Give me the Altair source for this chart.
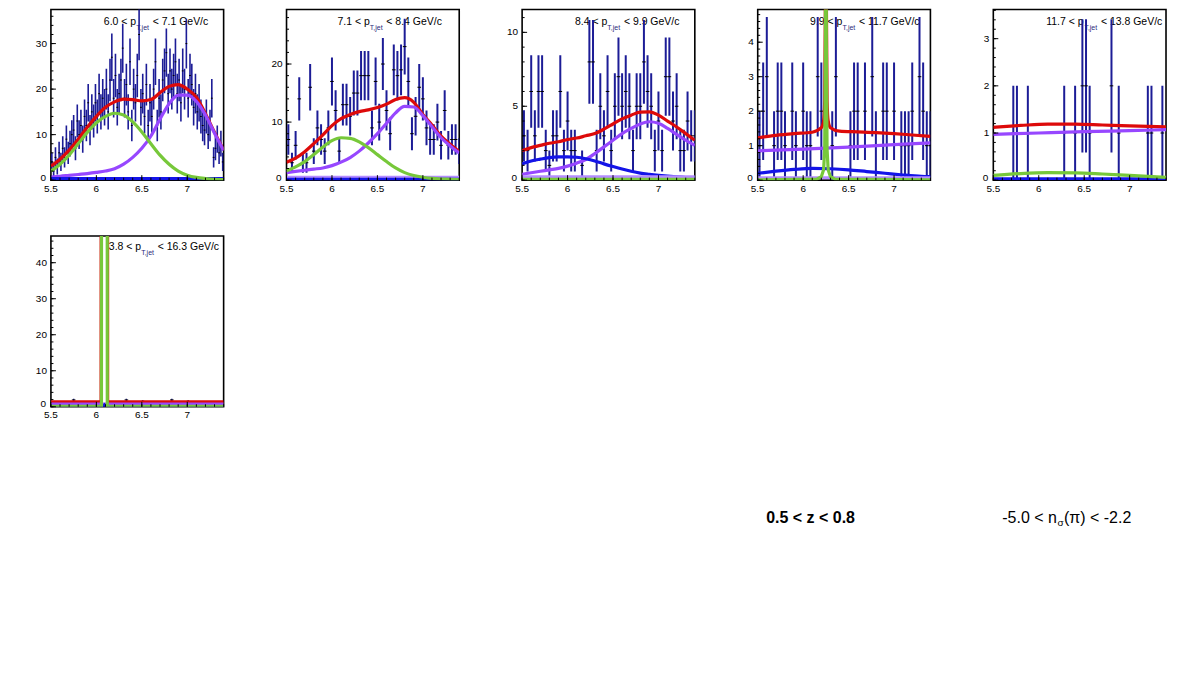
import altair as alt
import numpy as np
import pandas as pd

FONT = "Liberation Sans"
W, H = 173, 171
X_DOMAIN = [5.5, 7.4]
NAVY, RED, PURPLE, GREEN, BLUE, LAV = "#1c1c96", "#dd0a0a", "#9747ff", "#77c83a", "#1414e8", "#b48cff"

# ---------------- panel titles / axes ----------------
pt_low = ["6.0", "7.1", "8.4", "9.9", "11.7", "3.8"]
pt_high = ["7.1", "8.4", "9.9", "11.7", "13.8", "16.3"]
y_max = [37.5, 29.4, 11.55, 4.95, 3.62, 47.4]
y_major = [[0, 10, 20, 30], [0, 10, 20], [0, 5, 10], [0, 1, 2, 3, 4], [0, 1, 2, 3], [0, 10, 20, 30, 40]]
y_minor_step = [2, 2, 1, 0.2, 0.2, 2]
x_major = [5.5, 6.0, 6.5, 7.0]
x_major_labels = ["5.5", "6", "6.5", "7"]
x_minor_step = 0.1

# ---------------- histogram data ----------------
p1_counts = [4, 2, 5, 3, 6, 4, 7, 5, 9, 6, 8, 10, 11, 7, 13, 10, 12, 9, 14, 12,
             17, 11, 15, 13, 17, 14, 19, 15, 18, 16, 20, 15, 22, 27, 18, 23, 16, 19, 22, 29,
             18, 21, 15, 26, 12, 20, 17, 23, 32, 16, 19, 14, 21, 12, 17, 14, 20, 26, 12, 18,
             15, 22, 24, 28, 19, 24, 20, 23, 26, 19, 22, 17, 24, 20, 30, 18, 23, 21, 16, 19,
             15, 17, 14, 12, 11, 14, 10, 12, 18, 5, 7, 9, 6, 8, 4]
p2_counts = [7, 3, 6, 14, 3, 3, 16, 5, 9, 7, 5, 9, 17, 12, 5, 13, 13, 11, 15, 15,
             18, 18, 18, 9, 17, 10, 20, 12, 8, 19, 18, 19, 23, 17, 8, 11, 16, 14, 9, 7,
             7, 10, 6, 12, 6, 7, 7, 5]
p3_counts = [3, 2, 6, 3, 6, 6, 2, 1, 3, 3, 6, 2, 4, 2, 2, 0, 1, 0, 8, 8,
             2, 5, 3, 6, 2, 5, 7, 5, 6, 5, 2, 5, 5, 8, 6, 5, 2, 4, 2, 7,
             7, 4, 5, 2, 2, 4, 3, 3]
p4_counts = [1, 2, 3, 0, 1, 2, 2, 1, 0, 2, 1, 0, 2, 1, 1, 0, 3, 2, 0, 0,
             1, 3, 0, 0, 0, 1, 2, 2, 0, 2, 0, 3, 1, 0, 2, 2, 0, 2, 0, 1,
             1, 1, 2, 0, 3, 2, 1, 1]
p5_counts = [0, 0, 0, 0, 0, 1, 1, 0, 0, 1, 0, 0, 0, 0, 0, 0, 0, 0, 0, 1,
             0, 0, 1, 0, 2, 2, 1, 0, 0, 0, 0, 0, 2, 0, 1, 0, 0, 0, 0, 0,
             0, 0, 1, 1, 0, 0, 1, 0]
p6_x = [5.75, 6.33, 6.51, 6.83, 7.01]
p6_vals = [1.9, 1.9, 1.5, 1.9, 1.5]
p6_errs = [0.35, 0.35, 0.35, 0.35, 0.35]

# ---------------- fitted curves ----------------
grid_x = [5.5, 5.6, 5.7, 5.8, 5.9, 6.0, 6.1, 6.2, 6.3, 6.4, 6.5, 6.6, 6.7, 6.8, 6.9, 7.0, 7.1, 7.2, 7.3, 7.4]
edge_x = [5.5, 7.4]

p1_red = [3.1, 4.6, 6.6, 9.0, 11.6, 14.0, 16.0, 17.2, 17.8, 17.7, 17.4, 17.7, 19.2, 20.6, 21.0, 20.0, 18.2, 14.6, 10.5, 6.6]
p1_green = [2.0, 3.5, 5.5, 8.0, 10.5, 12.6, 14.0, 14.7, 14.3, 12.8, 10.6, 8.0, 5.5, 3.5, 2.0, 1.1, 0.6, 0.35, 0.2, 0.15]
p1_purple = [0.7, 0.85, 1.05, 1.25, 1.45, 1.7, 2.0, 2.5, 3.5, 5.0, 7.0, 9.7, 13.4, 16.8, 18.7, 18.7, 17.3, 14.3, 10.3, 6.5]
p1_blue = [0.33, 0.33]

p2_red = [3.1, 3.8, 4.9, 6.3, 7.8, 9.4, 10.6, 11.3, 11.8, 12.1, 12.5, 13.1, 13.9, 14.2, 13.4, 11.3, 9.5, 7.6, 6.2, 4.9]
p2_green = [1.6, 2.3, 3.2, 4.4, 5.7, 6.8, 7.3, 7.2, 6.6, 5.6, 4.4, 3.2, 2.1, 1.3, 0.8, 0.5, 0.3, 0.2, 0.15, 0.1]
p2_purple = [1.3, 1.5, 1.7, 1.9, 2.1, 2.5, 3.1, 3.9, 5.0, 6.4, 8.0, 9.8, 11.6, 12.7, 12.6, 11.1, 9.2, 7.3, 5.9, 4.7]
p2_lav = [0.48, 0.48]
p2_blue = [0.15, 0.15]

p3_red = [2.0, 2.2, 2.35, 2.5, 2.6, 2.75, 2.85, 3.0, 3.15, 3.45, 3.8, 4.15, 4.4, 4.6, 4.62, 4.4, 4.0, 3.6, 3.15, 2.7]
p3_purple = [0.4, 0.5, 0.6, 0.7, 0.8, 0.95, 1.15, 1.4, 1.8, 2.25, 2.7, 3.15, 3.5, 3.8, 3.95, 3.85, 3.5, 3.1, 2.7, 2.35]
p3_blue = [1.1, 1.3, 1.42, 1.52, 1.57, 1.58, 1.55, 1.45, 1.3, 1.1, 0.92, 0.75, 0.6, 0.48, 0.4, 0.33, 0.27, 0.22, 0.18, 0.16]
p3_lav = [0.22, 0.22]
p3_green = [0.06, 0.06]

p4_red_x = [5.5, 5.7, 5.9, 6.1, 6.2, 6.225, 6.237, 6.245, 6.25, 6.255, 6.263, 6.275, 6.3, 6.4, 6.6, 6.8, 7.0, 7.2, 7.4]
p4_red = [1.23, 1.30, 1.35, 1.39, 1.52, 1.72, 2.3, 5.4, 31.4, 5.4, 2.3, 1.72, 1.52, 1.42, 1.40, 1.38, 1.35, 1.31, 1.27]
p4_green_x = [5.5, 6.15, 6.2, 6.225, 6.237, 6.245, 6.25, 6.255, 6.263, 6.275, 6.3, 6.35, 7.4]
p4_green = [0.01, 0.03, 0.1, 0.3, 0.9, 4.0, 30.0, 4.0, 0.9, 0.3, 0.1, 0.03, 0.01]
p4_purple_x = [5.5, 6.0, 6.5, 7.0, 7.4]
p4_purple = [0.85, 0.9, 0.96, 1.03, 1.08]
p4_blue_x = [5.5, 5.7, 5.9, 6.1, 6.3, 6.5, 6.7, 6.9, 7.1, 7.3, 7.4]
p4_blue = [0.2, 0.26, 0.31, 0.34, 0.33, 0.3, 0.25, 0.2, 0.15, 0.11, 0.1]
p4_lav = [0.07, 0.07]

p5_red_x = [5.5, 5.8, 6.1, 6.4, 6.7, 7.0, 7.4]
p5_red = [1.12, 1.16, 1.19, 1.19, 1.17, 1.15, 1.13]
p5_purple_x = [5.5, 6.0, 6.5, 7.0, 7.4]
p5_purple = [0.97, 1.0, 1.03, 1.05, 1.07]
p5_green_x = [5.5, 5.8, 6.1, 6.4, 6.7, 7.0, 7.4]
p5_green = [0.1, 0.14, 0.16, 0.155, 0.13, 0.1, 0.06]
p5_blue = [0.03, 0.03]

p6_red_x = [5.5, 6.052, 6.057, 6.119, 6.124, 7.4]
p6_red = [1.4, 1.4, 400, 400, 1.4, 1.4]
p6_purple = [0.75, 0.75]
p6_blue_x = [5.5, 6.07, 6.09, 6.11, 7.4]
p6_blue = [0.0, 0.0, 0.5, 0.0, 0.0]
p6_green_x = [5.5, 6.056, 6.06, 6.116, 6.12, 7.4]
p6_green = [0.1, 0.1, 400, 400, 0.1, 0.1]

# ---------------- helpers ----------------
CW = {c: 556 for c in "0123456789"}
CW.update({".": 278, " ": 278, "<": 584, "p": 556, "T": 611, ",": 278, "j": 222, "e": 556,
           "t": 278, "G": 778, "V": 667, "/": 278, "c": 500, "-": 333, "n": 556, "(": 333,
           ")": 333, "z": 500})


def tw(s, size):
    return sum(CW.get(ch, 556) for ch in s) * size / 1000.0


def text_layer(s, x, y, size, color="black", weight="normal"):
    return alt.Chart(alt.Data(values=[{}])).mark_text(
        text=s, align="left", baseline="alphabetic", font=FONT, fontSize=size,
        color=color, fontWeight=weight).encode(x=alt.value(x), y=alt.value(y))


def hist_df(centers, vals, errs, half):
    df = pd.DataFrame({"x": centers, "v": vals, "e": errs})
    df = df[df.v > 0].copy()
    df["lo"] = df.v - df.e
    df["hi"] = df.v + df.e
    df["xl"] = df.x - half
    df["xr"] = df.x + half
    return df


def make_panel(i, hist, half, bar_w, curves, title_x, title_y, extra=()):
    xs = alt.Scale(domain=X_DOMAIN, nice=False, zero=False)
    ys = alt.Scale(domain=[0, y_max[i]], nice=False, zero=False)
    layers = []
    # title  "lo < p_{T,jet} < hi GeV/c"
    fs, fsub = 10.5, 7
    m1 = f"{pt_low[i]} < p"
    x1 = title_x + tw(m1, fs)
    x2 = x1 + tw("T,jet", fsub) + tw(" ", fs)
    layers.append(text_layer(m1, title_x, title_y, fs))
    layers.append(text_layer("T,jet", x1, title_y + 4.6, fsub, color="#2b2b7a"))
    layers.append(text_layer(f"< {pt_high[i]} GeV/c", x2, title_y, fs))
    # data
    base = alt.Chart(hist)
    layers.append(base.mark_rule(color=NAVY, strokeWidth=bar_w, clip=True).encode(
        x=alt.X("x:Q", scale=xs, axis=None),
        y=alt.Y("lo:Q", scale=ys, axis=None),
        y2="hi:Q"))
    layers.append(base.mark_rule(color="black", strokeWidth=1, clip=True).encode(
        x=alt.X("xl:Q", scale=xs, axis=None), x2="xr:Q",
        y=alt.Y("v:Q", scale=ys, axis=None)))
    # curves
    for cx, cy, col, interp in curves:
        cdf = pd.DataFrame({"x": cx, "y": cy})
        layers.append(alt.Chart(cdf).mark_line(color=col, strokeWidth=3.2, clip=True,
                                               interpolate=interp).encode(
            x=alt.X("x:Q", scale=xs, axis=None), y=alt.Y("y:Q", scale=ys, axis=None)))
    # inner ticks (ROOT style)
    ymin_t = pd.DataFrame({"t": np.arange(0, y_max[i] + 1e-9, y_minor_step[i])})
    ymaj_t = pd.DataFrame({"t": y_major[i]})
    xmin_t = pd.DataFrame({"t": np.arange(5.5, 7.4 + 1e-9, x_minor_step)})
    xmaj_t = pd.DataFrame({"t": x_major})
    for df, L in ((ymin_t, 2.5), (ymaj_t, 5)):
        layers.append(alt.Chart(df).mark_rule(color="black", strokeWidth=1).encode(
            y=alt.Y("t:Q", scale=ys, axis=None), x=alt.value(0), x2=alt.value(L)))
    for df, L in ((xmin_t, 2.5), (xmaj_t, 5)):
        layers.append(alt.Chart(df).mark_rule(color="black", strokeWidth=1).encode(
            x=alt.X("t:Q", scale=xs, axis=None), y=alt.value(H), y2=alt.value(H - L)))
    # tick labels
    yl = [v for v in y_major[i] if v != 0]
    ylab = pd.DataFrame({"t": yl, "s": [str(v) for v in yl]})
    ylab0 = pd.DataFrame({"t": [0], "s": ["0"]})
    xlab = pd.DataFrame({"t": x_major, "s": x_major_labels})
    layers.append(alt.Chart(ylab).mark_text(align="right", baseline="middle", font=FONT,
                                            fontSize=10, color="black").encode(
        y=alt.Y("t:Q", scale=ys, axis=None), x=alt.value(-4), text="s:N"))
    layers.append(alt.Chart(ylab0).mark_text(align="right", baseline="middle", font=FONT,
                                             fontSize=10, color="black", dy=-2.5).encode(
        y=alt.Y("t:Q", scale=ys, axis=None), x=alt.value(-5), text="s:N"))
    layers.append(alt.Chart(xlab).mark_text(align="center", baseline="top", font=FONT,
                                            fontSize=10, color="black").encode(
        x=alt.X("t:Q", scale=xs, axis=None), y=alt.value(H + 3.5), text="s:N"))
    layers.extend(extra)
    return alt.layer(*layers).properties(width=W, height=H)


c1 = np.round(5.51 + 0.02 * np.arange(95), 3)
c4 = np.round(5.52 + 0.04 * np.arange(48), 3)

h1 = hist_df(c1, p1_counts, np.sqrt(p1_counts), 0.01)
h2 = hist_df(c4, p2_counts, np.sqrt(p2_counts), 0.02)
h3 = hist_df(c4, p3_counts, np.sqrt(p3_counts), 0.02)
h4 = hist_df(c4, p4_counts, np.sqrt(p4_counts), 0.02)
h5 = hist_df(c4, p5_counts, np.sqrt(p5_counts), 0.02)
h6 = hist_df(p6_x, p6_vals, p6_errs, 0.02)

M, L_ = "monotone", "linear"
curves1 = [(grid_x, p1_red, RED, M), (grid_x, p1_purple, PURPLE, M), (edge_x, p1_blue, BLUE, L_),
           (grid_x, p1_green, GREEN, M)]
curves2 = [(grid_x, p2_red, RED, M), (grid_x, p2_purple, PURPLE, M), (edge_x, p2_lav, LAV, L_),
           (edge_x, p2_blue, BLUE, L_), (grid_x, p2_green, GREEN, M)]
curves3 = [(grid_x, p3_red, RED, M), (grid_x, p3_purple, PURPLE, M), (grid_x, p3_blue, BLUE, M),
           (edge_x, p3_lav, LAV, L_), (edge_x, p3_green, GREEN, L_)]
curves4 = [(p4_red_x, p4_red, RED, M), (p4_purple_x, p4_purple, PURPLE, M), (p4_blue_x, p4_blue, BLUE, M),
           (edge_x, p4_lav, LAV, L_), (p4_green_x, p4_green, GREEN, L_)]
curves5 = [(p5_red_x, p5_red, RED, M), (p5_purple_x, p5_purple, PURPLE, M), (edge_x, p5_blue, BLUE, L_),
           (p5_green_x, p5_green, GREEN, M)]
curves6 = [(p6_red_x, p6_red, RED, L_), (edge_x, p6_purple, PURPLE, L_), (p6_blue_x, p6_blue, BLUE, L_),
           (p6_green_x, p6_green, GREEN, L_)]

# bottom labels (placed relative to the last panel)
bx = 953
by = 287
bottom = [
    text_layer("0.5 < z < 0.8", 716.5, by, 16, weight="bold"),
    text_layer("-5.0 < n", bx, by, 16),
    text_layer("σ", bx + tw("-5.0 < n", 16) + 0.5, by + 3.3, 10),
    text_layer("(π) < -2.2", bx + tw("-5.0 < n", 16) + 7, by, 16),
]

panels = [
    make_panel(0, h1, 0.01, 1.6, curves1, 53, 16),
    make_panel(1, h2, 0.02, 2, curves2, 51, 16),
    make_panel(2, h3, 0.02, 2, curves3, 53, 16),
    make_panel(3, h4, 0.02, 2, curves4, 52.5, 16),
    make_panel(4, h5, 0.02, 2, curves5, 53, 16),
    make_panel(5, h6, 0.02, 1.5, curves6, 58, 14, extra=bottom),
]

chart = alt.concat(*panels, columns=5, spacing={"row": 56, "column": 63}, bounds="flush").properties(
    padding={"left": 27, "top": 0, "right": 5, "bottom": 5}
).configure_view(stroke="black", strokeWidth=1.6)

chart.save("out.html", embed_options={"renderer": "svg", "actions": False})
